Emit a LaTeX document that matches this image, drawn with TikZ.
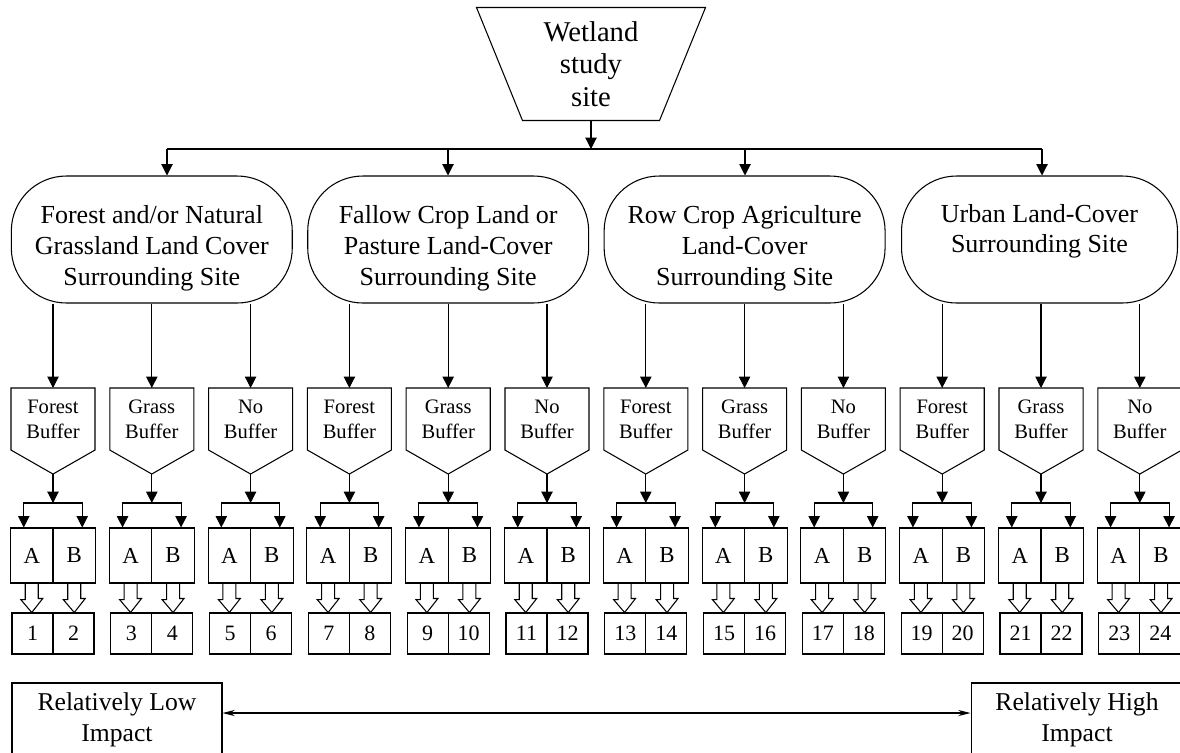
\documentclass[tikz,border=0pt]{standalone}
\usepackage{fontspec}
\setmainfont{Liberation Serif}
\usetikzlibrary{arrows.meta,positioning,calc}

\tikzset{
  sitebox/.style={minimum width=4.56cm, minimum height=2.24cm, inner sep=0pt, align=center, font=\fontsize{16.3}{18.4}\selectfont},
  landbox/.style={draw, rounded corners=1.1cm, minimum width=5.62cm, minimum height=2.54cm, align=center, font=\fontsize{14.8}{17.5}\selectfont},
  buftext/.style={minimum width=1.66cm, minimum height=1.22cm, inner sep=0pt, align=center, font=\fontsize{11.7}{14.2}\selectfont},
  cellbox/.style={draw, minimum width=0.85cm, minimum height=1.1cm, inner sep=0pt, font=\fontsize{13}{14}\selectfont},
  numbox/.style={draw, minimum width=0.82cm, minimum height=0.82cm, inner sep=0pt, font=\fontsize{12.5}{14}\selectfont},
  endbox/.style={draw, minimum height=1.46cm, align=center, font=\fontsize{14.6}{17.6}\selectfont},
}

% lowers the text in a land box
\newcommand\tallstrut{\rule{0pt}{20.5pt}}

% open block arrow from a cell down to its number box
\newcommand\hollowarrow[2]{%
  \draw (#1.south) ++(-6.5,0) -- ++(0,16) -- ++(-4.5,0) -- (#1.south |- #2.north)
    -- ++(11,-14) -- ++(-4.5,0) -- ++(0,-16);}

\begin{document}
\begin{tikzpicture}[x=0.02cm, y=-0.02cm, line width=0.6pt, >={Triangle[width=6.5pt,length=6.5pt]}]
\useasboundingbox (0,0) rectangle (1180,752);
\clip (0,0) rectangle (1180,752);

% study site
\node[sitebox] (site) at (591,64) {Wetland\\study\\site};
\draw (site.north west) -- (site.north east) -- ([xshift=-0.92cm]site.south east) -- ([xshift=0.92cm]site.south west) -- cycle;

% land cover
\node[landbox] (land1) at (151.8,239.5) {\tallstrut Forest and/or Natural\\Grassland Land Cover\\Surrounding Site};
\node[landbox] (land2) at (448.2,239.5) {\tallstrut Fallow Crop Land or\\Pasture Land-Cover\\Surrounding Site};
\node[landbox] (land3) at (744.6,239.5) {\tallstrut Row Crop Agriculture\\Land-Cover\\Surrounding Site};
\node[landbox, minimum width=5.52cm] (land4) at (1039.5,239.5) {\tallstrut Urban Land-Cover\\Surrounding Site\\\strut};

\coordinate (bus) at (591,149);
\draw[->] (site.south) -- (bus);
\foreach \k/\bx in {1/167,2/448,3/745,4/1042}{
  \coordinate (bus\k) at (\bx,149);
  \draw[->] (bus\k) -- (bus\k |- land\k.north);
}
\draw (bus1) -- (bus4);

% buffers, cells and numbers
\foreach \i/\kind in {0/Forest,1/Grass,2/No,3/Forest,4/Grass,5/No,6/Forest,7/Grass,8/No,9/Forest,10/Grass,11/No}{
  \pgfmathsetmacro\cx{53+98.8*\i}
  \pgfmathtruncatemacro\grp{\i/3+1}
  \pgfmathtruncatemacro\na{2*\i+1}
  \pgfmathtruncatemacro\nb{2*\i+2}
  \node[buftext] (buf\i) at (\cx,419) {\kind\\Buffer};
  \draw (buf\i.north west) -- (buf\i.north east) -- (buf\i.south east)
    -- ($(buf\i.south)+(0,24)$) coordinate (tip\i) -- (buf\i.south west) -- cycle;
  \draw[->] (buf\i.north |- land\grp.south) -- (buf\i.north);
  \coordinate (jn\i) at (\cx,503);
  \draw[->] (tip\i) -- (jn\i);
  \node[cellbox] (a\i) at (\cx-21.25,555.5) {A};
  \node[cellbox] (b\i) at (\cx+21.25,555.5) {B};
  \draw[<->] ([xshift=-0.16cm]a\i.north) |- (jn\i) -| ([xshift=0.16cm]b\i.north);
  \node[numbox] (na\i) at (\cx-20.5,633.5) {\na};
  \node[numbox] (nb\i) at (\cx+20.5,633.5) {\nb};
  \hollowarrow{a\i}{na\i}
  \hollowarrow{b\i}{nb\i}
}

% impact scale
\node[endbox, minimum width=4.2cm] (low) at (117,719.5) {Relatively Low\\Impact};
\node[endbox, minimum width=4.24cm] (high) at (1077,719.5) {Relatively High\\Impact};
\draw[{Stealth[length=7pt,width=3.5pt]}-{Stealth[length=7pt,width=3.5pt]}] ([yshift=0.13cm]low.east) -- ([yshift=0.13cm]high.west);
\end{tikzpicture}
\end{document}
